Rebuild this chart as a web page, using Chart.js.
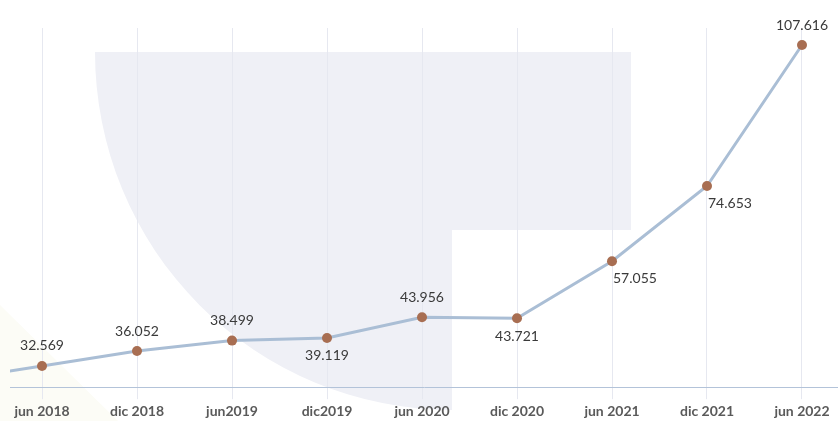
<!DOCTYPE html>
<html>
<head>
<meta charset="utf-8">
<script src="https://cdn.jsdelivr.net/npm/chart.js@4"></script>
<style>
    html, body { margin: 0; padding: 0; background: #ffffff; overflow: hidden; }
    #wrap { width: 843px; height: 421px; position: relative; }
</style>
</head>
<body>
<div id="wrap"><canvas id="chart-line"></canvas></div>
<script>
// Datos
const categories = ['jun 2018', 'dic 2018', 'jun2019', 'dic2019', 'jun 2020', 'dic 2020', 'jun 2021', 'dic 2021', 'jun 2022'];
const values = [32.569, 36.052, 38.499, 39.119, 43.956, 43.721, 57.055, 74.653, 107.616];
const valueLabels = ['32.569', '36.052', '38.499', '39.119', '43.956', '43.721', '57.055', '74.653', '107.616'];
// tramo previo que entra por el borde izquierdo
const previousValue = 29.1;

// ubicación de cada etiqueta
const labelPlace = ['above', 'above', 'above', 'below', 'above', 'below', 'right', 'right', 'above'];

// Fondo decorativo
const backgroundShape = {
    id: 'backgroundShape',
    beforeDraw(chart) {
        const ctx = chart.ctx;
        ctx.save();
        // triángulo crema abajo a la izquierda
        ctx.fillStyle = '#fcfcf6';
        ctx.beginPath();
        ctx.moveTo(0, 305);
        ctx.lineTo(118, 421);
        ctx.lineTo(0, 421);
        ctx.closePath();
        ctx.fill();
        // forma gris lavanda
        ctx.fillStyle = '#eff0f6';
        ctx.beginPath();
        ctx.moveTo(631, 52);
        ctx.lineTo(95, 52);
        ctx.ellipse(452, 52, 357, 358, 0, Math.PI, Math.PI / 2, true);
        ctx.lineTo(452, 230);
        ctx.lineTo(631, 230);
        ctx.closePath();
        ctx.fill();
        ctx.restore();
    }
};

// Etiquetas de valores
const pointLabels = {
    id: 'pointLabels',
    afterDatasetsDraw(chart) {
        const ctx = chart.ctx;
        const meta = chart.getDatasetMeta(0);
        ctx.save();
        ctx.font = '14px Lato';
        ctx.fillStyle = '#3a3a3a';
        ctx.textBaseline = 'middle';
        meta.data.forEach((pt, i) => {
            if (i === 0) return;
            const k = i - 1;
            const place = labelPlace[k];
            if (place === 'above') {
                ctx.textAlign = 'center';
                ctx.fillText(valueLabels[k], pt.x, pt.y - 20);
            } else if (place === 'below') {
                ctx.textAlign = 'center';
                ctx.fillText(valueLabels[k], pt.x, pt.y + 18);
            } else {
                ctx.textAlign = 'left';
                ctx.fillText(valueLabels[k], pt.x + 1, pt.y + 17);
            }
        });
        ctx.restore();
    }
};

const points = [previousValue].concat(values).map((v, i) => ({ x: i - 1, y: v }));

new Chart(document.getElementById('chart-line'), {
    type: 'line',
    data: {
        datasets: [{
            data: points,
            borderColor: '#aabed5',
            borderWidth: 3,
            tension: 0,
            pointRadius: ctx => ctx.dataIndex === 0 ? 0 : 5,
            pointBackgroundColor: '#a86e52',
            pointBorderColor: '#a86e52',
            pointBorderWidth: 0
        }]
    },
    options: {
        responsive: true,
        maintainAspectRatio: false,
        animation: false,
        layout: { padding: { left: 10, right: 0, top: 28, bottom: -3 } },
        plugins: {
            legend: { display: false },
            tooltip: { enabled: false }
        },
        scales: {
            x: {
                type: 'linear',
                min: -0.337,
                max: 8.379,
                afterBuildTicks: scale => {
                    scale.ticks = categories.map((c, i) => ({ value: i }));
                },
                ticks: {
                    callback: value => categories[value],
                    color: '#5a5a5a',
                    font: { family: 'Lato', size: 14, weight: 'bold' },
                    padding: 4,
                    maxRotation: 0
                },
                grid: {
                    color: '#e6e8f0',
                    lineWidth: 1,
                    tickLength: 12
                },
                border: { color: '#b3c3d9', width: 1 }
            },
            y: {
                display: false,
                min: 27.6,
                max: 111.6
            }
        }
    },
    plugins: [backgroundShape, pointLabels]
});
</script>
</body>
</html>
